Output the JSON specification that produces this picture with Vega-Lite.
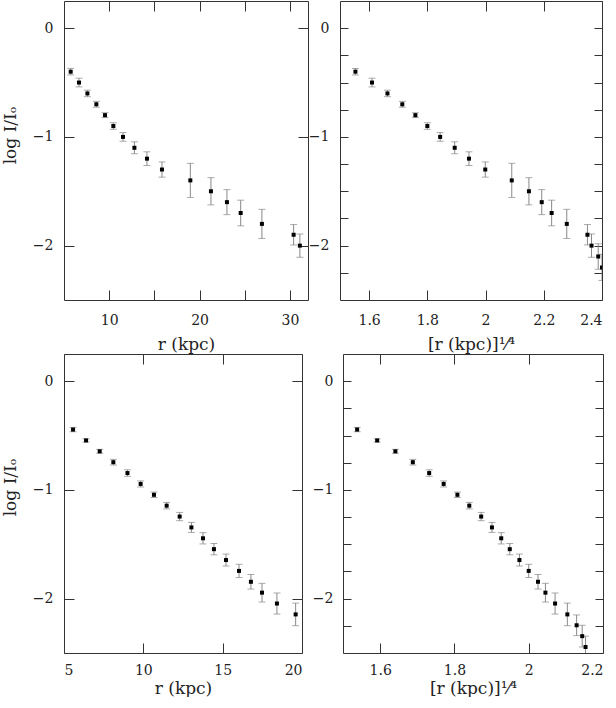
{
  "$schema": "https://vega.github.io/schema/vega-lite/v6.json",
  "padding": {"left": 0, "top": 0, "right": 0, "bottom": 0},
  "background": "white",
  "datasets": {
    "tl": [
      {"x": 5.74, "logI": -0.4, "err": 0.03},
      {"x": 6.66, "logI": -0.5, "err": 0.04},
      {"x": 7.59, "logI": -0.6, "err": 0.03},
      {"x": 8.58, "logI": -0.7, "err": 0.027},
      {"x": 9.54, "logI": -0.8, "err": 0.022},
      {"x": 10.46, "logI": -0.9, "err": 0.03},
      {"x": 11.53, "logI": -1.0, "err": 0.04},
      {"x": 12.79, "logI": -1.1, "err": 0.055},
      {"x": 14.18, "logI": -1.2, "err": 0.063},
      {"x": 15.84, "logI": -1.3, "err": 0.07},
      {"x": 18.98, "logI": -1.4, "err": 0.157},
      {"x": 21.26, "logI": -1.5, "err": 0.125},
      {"x": 23.03, "logI": -1.6, "err": 0.115},
      {"x": 24.55, "logI": -1.7, "err": 0.118},
      {"x": 26.9, "logI": -1.8, "err": 0.134},
      {"x": 30.41, "logI": -1.9, "err": 0.094},
      {"x": 31.1, "logI": -2.0, "err": 0.107}
    ],
    "tr": [
      {"x": 1.553, "logI": -0.4, "err": 0.03},
      {"x": 1.61, "logI": -0.5, "err": 0.04},
      {"x": 1.663, "logI": -0.6, "err": 0.03},
      {"x": 1.714, "logI": -0.7, "err": 0.027},
      {"x": 1.759, "logI": -0.8, "err": 0.022},
      {"x": 1.8, "logI": -0.9, "err": 0.03},
      {"x": 1.844, "logI": -1.0, "err": 0.04},
      {"x": 1.894, "logI": -1.1, "err": 0.055},
      {"x": 1.943, "logI": -1.2, "err": 0.063},
      {"x": 1.999, "logI": -1.3, "err": 0.07},
      {"x": 2.09, "logI": -1.4, "err": 0.157},
      {"x": 2.149, "logI": -1.5, "err": 0.125},
      {"x": 2.193, "logI": -1.6, "err": 0.115},
      {"x": 2.227, "logI": -1.7, "err": 0.118},
      {"x": 2.279, "logI": -1.8, "err": 0.134},
      {"x": 2.35, "logI": -1.9, "err": 0.094},
      {"x": 2.364, "logI": -2.0, "err": 0.107},
      {"x": 2.387, "logI": -2.1, "err": 0.117},
      {"x": 2.4, "logI": -2.2, "err": 0.12}
    ],
    "bl": [
      {"x": 5.57, "logI": -0.445, "err": 0.02},
      {"x": 6.39, "logI": -0.545, "err": 0.015},
      {"x": 7.25, "logI": -0.645, "err": 0.018},
      {"x": 8.11, "logI": -0.745, "err": 0.026},
      {"x": 9.0, "logI": -0.845, "err": 0.03},
      {"x": 9.83, "logI": -0.945, "err": 0.028},
      {"x": 10.67, "logI": -1.045, "err": 0.025},
      {"x": 11.47, "logI": -1.145, "err": 0.03},
      {"x": 12.29, "logI": -1.245, "err": 0.038},
      {"x": 13.03, "logI": -1.345, "err": 0.046},
      {"x": 13.76, "logI": -1.445, "err": 0.052},
      {"x": 14.45, "logI": -1.545, "err": 0.052},
      {"x": 15.21, "logI": -1.645, "err": 0.055},
      {"x": 16.03, "logI": -1.745, "err": 0.061},
      {"x": 16.78, "logI": -1.845, "err": 0.067},
      {"x": 17.48, "logI": -1.945, "err": 0.086},
      {"x": 18.42, "logI": -2.045, "err": 0.097},
      {"x": 19.6, "logI": -2.145, "err": 0.104}
    ],
    "br": [
      {"x": 1.538, "logI": -0.445, "err": 0.02},
      {"x": 1.592, "logI": -0.545, "err": 0.015},
      {"x": 1.641, "logI": -0.645, "err": 0.018},
      {"x": 1.688, "logI": -0.745, "err": 0.026},
      {"x": 1.732, "logI": -0.845, "err": 0.03},
      {"x": 1.771, "logI": -0.945, "err": 0.028},
      {"x": 1.808, "logI": -1.045, "err": 0.025},
      {"x": 1.84, "logI": -1.145, "err": 0.03},
      {"x": 1.872, "logI": -1.245, "err": 0.038},
      {"x": 1.901, "logI": -1.345, "err": 0.046},
      {"x": 1.926, "logI": -1.445, "err": 0.052},
      {"x": 1.949, "logI": -1.545, "err": 0.052},
      {"x": 1.975, "logI": -1.645, "err": 0.055},
      {"x": 2.0, "logI": -1.745, "err": 0.061},
      {"x": 2.025, "logI": -1.845, "err": 0.067},
      {"x": 2.045, "logI": -1.945, "err": 0.086},
      {"x": 2.071, "logI": -2.045, "err": 0.097},
      {"x": 2.104, "logI": -2.145, "err": 0.104},
      {"x": 2.129, "logI": -2.245, "err": 0.095},
      {"x": 2.144, "logI": -2.345, "err": 0.1},
      {"x": 2.153, "logI": -2.445, "err": 0.1}
    ]
  },
  "config": {
    "view": {"stroke": "#333", "strokeWidth": 1},
    "axis": {
      "grid": false,
      "domain": false,
      "tickColor": "#333",
      "tickSize": 10,
      "offset": -10,
      "labelFont": "DejaVu Serif",
      "labelFontSize": 14,
      "labelColor": "#222",
      "labelPadding": 11,
      "titleFont": "DejaVu Serif",
      "titleFontSize": 17,
      "titleFontWeight": "normal",
      "titleColor": "#222",
      "titlePadding": 10
    }
  },
  "columns": 1,
  "align": "none",
  "spacing": 0,
  "concat": [
    {
      "spacing": -2,
      "hconcat": [
        {
          "width": 244, "height": 299,
          "data": {"name": "tl"},
          "resolve": {"axis": {"x": "independent", "y": "independent"}},
          "layer": [
            {
              "mark": {"type": "errorbar", "ticks": {"size": 7}, "color": "#888", "clip": true},
              "encoding": {
                "x": {"field": "x", "type": "quantitative", "scale": {"domain": [5, 32], "nice": false, "zero": false},
                      "axis": {"orient": "bottom", "values": [10, 15, 20, 25, 30], "labelExpr": "datum.value % 10 === 0 ? datum.label : ''", "labelPadding": 13, "titlePadding": 9, "title": "r (kpc)"}},
                "y": {"field": "logI", "type": "quantitative", "scale": {"domain": [-2.5, 0.25], "nice": false, "zero": false},
                      "axis": {"orient": "left", "values": [-2, -1, 0], "title": "log I/Iₒ", "titleX": -55, "titleY": 134}},
                "yError": {"field": "err"}
              }
            },
            {
              "mark": {"type": "square", "size": 16, "color": "black", "opacity": 1, "clip": true},
              "encoding": {
                "x": {"field": "x", "type": "quantitative", "axis": {"orient": "top", "values": [10, 15, 20, 25, 30], "labels": false, "title": null}},
                "y": {"field": "logI", "type": "quantitative", "axis": {"orient": "right", "values": [-2, -1, 0], "labels": false, "title": null}}
              }
            }
          ]
        },
        {
          "width": 262, "height": 299,
          "data": {"name": "tr"},
          "resolve": {"axis": {"x": "independent", "y": "independent"}},
          "layer": [
            {
              "mark": {"type": "errorbar", "ticks": {"size": 7}, "color": "#888", "clip": true},
              "encoding": {
                "x": {"field": "x", "type": "quantitative", "scale": {"domain": [1.5, 2.4], "nice": false, "zero": false},
                      "axis": {"orient": "bottom", "values": [1.6, 1.8, 2.0, 2.2, 2.4], "format": "~g", "labelPadding": 13, "titlePadding": 9, "title": "[r (kpc)]¹⁄⁴"}},
                "y": {"field": "logI", "type": "quantitative", "scale": {"domain": [-2.5, 0.25], "nice": false, "zero": false},
                      "axis": {"orient": "left", "values": [-2.25, -2, -1.75, -1.5, -1.25, -1, -0.75, -0.5, -0.25, 0], "labelExpr": "datum.value % 1 === 0 ? format(datum.value, 'd') : ''", "tickSize": 8, "offset": -8, "title": null}},
                "yError": {"field": "err"}
              }
            },
            {
              "mark": {"type": "square", "size": 16, "color": "black", "opacity": 1, "clip": true},
              "encoding": {
                "x": {"field": "x", "type": "quantitative", "axis": {"orient": "top", "values": [1.6, 1.8, 2.0, 2.2, 2.4], "labels": false, "title": null}},
                "y": {"field": "logI", "type": "quantitative", "axis": {"orient": "right", "values": [-2.25, -2, -1.75, -1.5, -1.25, -1, -0.75, -0.5, -0.25, 0], "tickSize": 8, "offset": -8, "labels": false, "title": null}}
              }
            }
          ]
        }
      ]
    },
    {
      "spacing": 8,
      "hconcat": [
        {
          "width": 238, "height": 299,
          "data": {"name": "bl"},
          "resolve": {"axis": {"x": "independent", "y": "independent"}},
          "layer": [
            {
              "mark": {"type": "errorbar", "ticks": {"size": 7}, "color": "#888", "clip": true},
              "encoding": {
                "x": {"field": "x", "type": "quantitative", "scale": {"domain": [5, 20], "nice": false, "zero": false},
                      "axis": {"orient": "bottom", "values": [5, 10, 15, 20], "labelPadding": 10, "titlePadding": 3, "title": "r (kpc)"}},
                "y": {"field": "logI", "type": "quantitative", "scale": {"domain": [-2.5, 0.25], "nice": false, "zero": false},
                      "axis": {"orient": "left", "values": [-2, -1, 0], "title": "log I/Iₒ", "titleX": -55, "titleY": 133}},
                "yError": {"field": "err"}
              }
            },
            {
              "mark": {"type": "square", "size": 16, "color": "black", "opacity": 1, "clip": true},
              "encoding": {
                "x": {"field": "x", "type": "quantitative", "axis": {"orient": "top", "values": [5, 10, 15, 20], "labels": false, "title": null}},
                "y": {"field": "logI", "type": "quantitative", "axis": {"orient": "right", "values": [-2, -1, 0], "labels": false, "title": null}}
              }
            }
          ]
        },
        {
          "width": 260, "height": 299,
          "data": {"name": "br"},
          "resolve": {"axis": {"x": "independent", "y": "independent"}},
          "layer": [
            {
              "mark": {"type": "errorbar", "ticks": {"size": 7}, "color": "#888", "clip": true},
              "encoding": {
                "x": {"field": "x", "type": "quantitative", "scale": {"domain": [1.5, 2.2], "nice": false, "zero": false},
                      "axis": {"orient": "bottom", "values": [1.6, 1.8, 2.0, 2.2], "format": "~g", "labelPadding": 10, "titlePadding": 3, "title": "[r (kpc)]¹⁄⁴"}},
                "y": {"field": "logI", "type": "quantitative", "scale": {"domain": [-2.5, 0.25], "nice": false, "zero": false},
                      "axis": {"orient": "left", "values": [-2.25, -2, -1.75, -1.5, -1.25, -1, -0.75, -0.5, -0.25, 0], "labelExpr": "datum.value % 1 === 0 ? format(datum.value, 'd') : ''", "tickSize": 8, "offset": -8, "labelPadding": 10, "title": null}},
                "yError": {"field": "err"}
              }
            },
            {
              "mark": {"type": "square", "size": 16, "color": "black", "opacity": 1, "clip": true},
              "encoding": {
                "x": {"field": "x", "type": "quantitative", "axis": {"orient": "top", "values": [1.6, 1.8, 2.0, 2.2], "labels": false, "title": null}},
                "y": {"field": "logI", "type": "quantitative", "axis": {"orient": "right", "values": [-2.25, -2, -1.75, -1.5, -1.25, -1, -0.75, -0.5, -0.25, 0], "tickSize": 8, "offset": -8, "labels": false, "title": null}}
              }
            }
          ]
        }
      ]
    }
  ]
}
